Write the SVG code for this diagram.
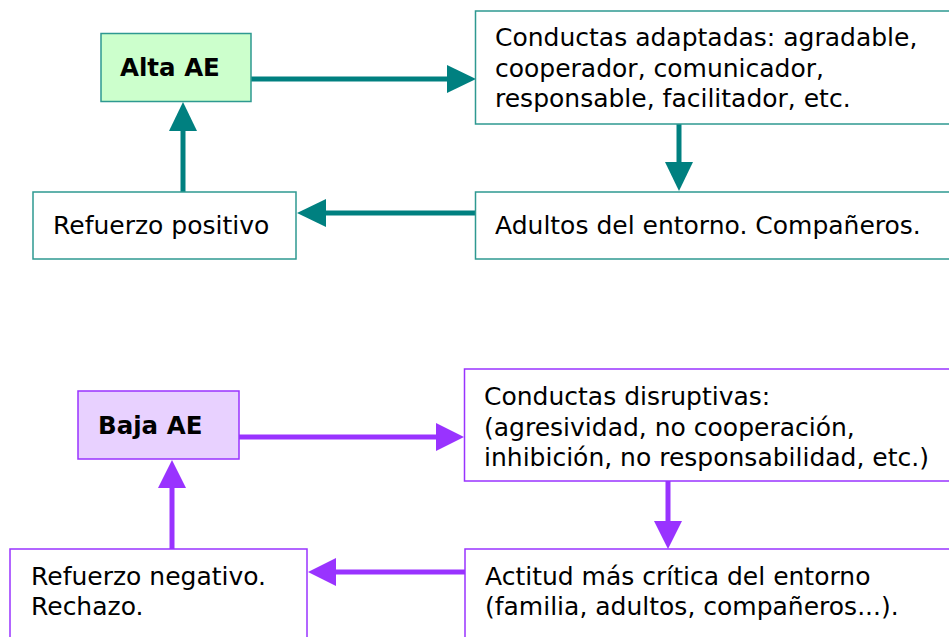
<svg xmlns="http://www.w3.org/2000/svg" width="949" height="637" viewBox="0 0 949 637">
<style>
  text { font-family: "DejaVu Sans", Verdana, sans-serif; font-size: 25px; fill: #000; }
  .bold { font-weight: bold; font-size: 24.5px; }
  .tbox { fill: #fff; stroke: #2e9991; stroke-width: 1.5; }
  .pbox { fill: #fff; stroke: #9933ff; stroke-width: 1.5; }
  .tline { stroke: #008080; stroke-width: 5; fill: none; marker-end: url(#tHead); }
  .pline { stroke: #9933ff; stroke-width: 5; fill: none; marker-end: url(#pHead); }
</style>
<defs>
  <marker id="tHead" markerUnits="userSpaceOnUse" markerWidth="30" markerHeight="30" refX="0" refY="14" orient="auto" overflow="visible">
    <path d="M0,0 L29,14 L0,28 Z" fill="#008080"/>
  </marker>
  <marker id="pHead" markerUnits="userSpaceOnUse" markerWidth="30" markerHeight="30" refX="0" refY="14" orient="auto" overflow="visible">
    <path d="M0,0 L28,14 L0,28 Z" fill="#9933ff"/>
  </marker>
</defs>
<rect width="949" height="637" fill="#fff"/>

<g id="connectors">
  <line class="tline" x1="251" y1="79" x2="447" y2="79"/>
  <line class="tline" x1="679" y1="124" x2="679" y2="162"/>
  <line class="tline" x1="475" y1="213" x2="326" y2="213"/>
  <line class="tline" x1="183" y1="192" x2="183" y2="131"/>
  <line class="pline" x1="239" y1="437" x2="436" y2="437"/>
  <line class="pline" x1="668" y1="481" x2="668" y2="521"/>
  <line class="pline" x1="465" y1="572" x2="336" y2="572"/>
  <line class="pline" x1="172" y1="549" x2="172" y2="488"/>
</g>

<g id="alta-ae">
  <rect x="101" y="33.5" width="150" height="68" fill="#ccffcc" stroke="#2e9991" stroke-width="1.5"/>
  <text class="bold" x="120" y="76">Alta AE</text>
</g>
<g id="conductas-adaptadas">
  <rect class="tbox" x="475.5" y="11" width="490" height="113"/>
  <text x="495" y="46">Conductas adaptadas: agradable,</text>
  <text x="495" y="76.5">cooperador, comunicador,</text>
  <text x="495" y="107">responsable, facilitador, etc.</text>
</g>
<g id="adultos">
  <rect class="tbox" x="475.5" y="192" width="490" height="67"/>
  <text x="495" y="234">Adultos del entorno. Compañeros.</text>
</g>
<g id="refuerzo-positivo">
  <rect class="tbox" x="33" y="192" width="263" height="67"/>
  <text x="53" y="234">Refuerzo positivo</text>
</g>

<g id="baja-ae">
  <rect x="78" y="391" width="161" height="68" fill="#e8d1ff" stroke="#9933ff" stroke-width="1.5"/>
  <text class="bold" x="98" y="434">Baja AE</text>
</g>
<g id="conductas-disruptivas">
  <rect class="pbox" x="464.5" y="369" width="500" height="112"/>
  <text x="484" y="405">Conductas disruptivas:</text>
  <text x="484" y="435.5">(agresividad, no cooperación,</text>
  <text x="484" y="466">inhibición, no responsabilidad, etc.)</text>
</g>
<g id="actitud">
  <rect class="pbox" x="465" y="549" width="500" height="100"/>
  <text x="485" y="585">Actitud más crítica del entorno</text>
  <text x="485" y="615">(familia, adultos, compañeros...).</text>
</g>
<g id="refuerzo-negativo">
  <rect class="pbox" x="10" y="549" width="297" height="100"/>
  <text x="31" y="585">Refuerzo negativo.</text>
  <text x="31" y="615">Rechazo.</text>
</g>
</svg>
